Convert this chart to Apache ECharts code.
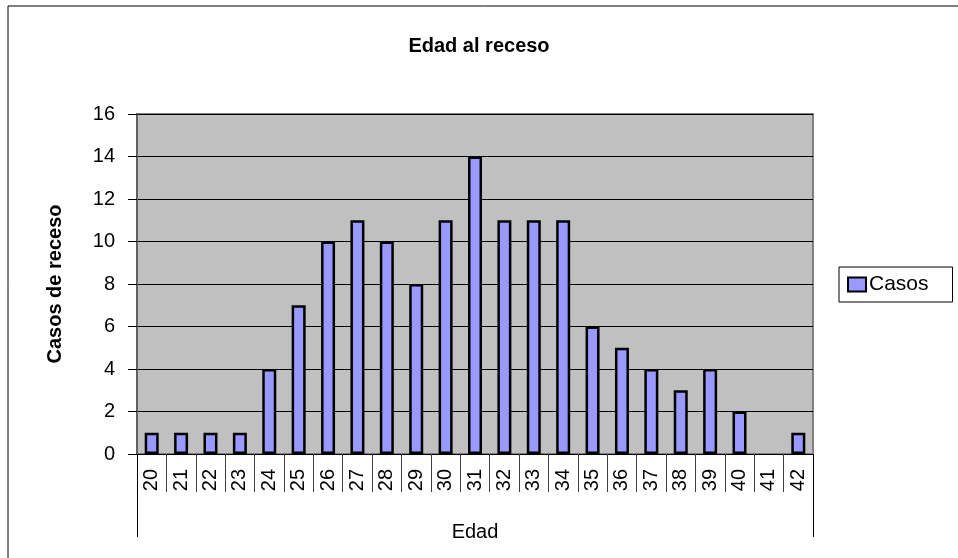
<!DOCTYPE html>
<html>
<head>
<meta charset="utf-8">
<script src="https://cdn.jsdelivr.net/npm/echarts@6/dist/echarts.min.js"></script>
<style>
  html, body { margin: 0; padding: 0; background: #fff; }
  #chart { width: 958px; height: 558px; }
</style>
</head>
<body>
<div id="chart"></div>
<script>
// datos
let edades = ['20','21','22','23','24','25','26','27','28','29','30','31','32','33','34','35','36','37','38','39','40','41','42']
let casos = [1, 1, 1, 1, 4, 7, 10, 11, 10, 8, 11, 14, 11, 11, 11, 6, 5, 4, 3, 4, 2, 0, 1]
let yTicks = [0, 2, 4, 6, 8, 10, 12, 14, 16]

let fuente = 'Liberation Sans, Arial, sans-serif'

// las barras en cero no se dibujan (sin borde)
let barras = casos.map(function (v) { return v === 0 ? '-' : v })

let option = {
  animation: false,
  backgroundColor: '#fff',
  title: {
    text: 'Edad al receso',
    left: 'center',
    top: 31,
    textStyle: { fontFamily: fuente, fontSize: 20, fontWeight: 'bold', color: '#000' }
  },
  legend: {
    data: ['Casos'],
    left: 839,
    top: 267,
    padding: [7, 24, 7, 8],
    itemWidth: 18,
    itemHeight: 14,
    itemGap: 4,
    borderColor: '#000',
    borderWidth: 1,
    icon: 'rect',
    textStyle: { fontFamily: fuente, fontSize: 21, color: '#000', padding: [0, 0, 0, -2] }
  },
  grid: {
    left: 137,
    right: 145,
    top: 114,
    bottom: 104,
    show: true,
    backgroundColor: '#C0C0C0',
    borderColor: '#808080',
    borderWidth: 2
  },
  xAxis: [
    {
      type: 'category',
      data: edades,
      position: 'bottom',
      axisLine: { show: true, lineStyle: { color: '#000', width: 1 } },
      axisTick: { show: true, interval: 0, length: 38, lineStyle: { color: '#404040' } },
      axisLabel: {
        interval: 0,
        rotate: 90,
        margin: 15,
        fontFamily: fuente,
        fontSize: 20,
        color: '#000'
      }
    },
    {
      type: 'category',
      data: [''],
      position: 'bottom',
      axisLine: { show: false },
      axisTick: { show: true, length: 83, lineStyle: { color: '#000' } },
      axisLabel: { show: false },
      name: 'Edad',
      nameLocation: 'middle',
      nameGap: 68,
      nameTextStyle: { fontFamily: fuente, fontSize: 20, color: '#000' }
    }
  ],
  yAxis: {
    type: 'value',
    min: yTicks[0],
    max: yTicks[yTicks.length - 1],
    interval: 2,
    name: 'Casos de receso',
    nameLocation: 'middle',
    nameGap: 72,
    nameTextStyle: { fontFamily: fuente, fontSize: 20, fontWeight: 'bold', color: '#000' },
    axisLine: { show: true, lineStyle: { color: '#606060', width: 2 } },
    axisTick: { show: true, inside: false, length: 9, lineStyle: { color: '#000' } },
    axisLabel: { margin: 22, fontFamily: fuente, fontSize: 20, color: '#000' },
    splitLine: { show: true, lineStyle: { color: '#000', width: 1 } }
  },
  graphic: [
    {
      type: 'rect',
      shape: { x: 8, y: 6, width: 960, height: 560 },
      style: { fill: 'none', stroke: '#000', lineWidth: 1 },
      silent: true
    }
  ],
  series: [
    {
      name: 'Casos',
      type: 'bar',
      xAxisIndex: 0,
      data: barras,
      barWidth: 14,
      itemStyle: { color: '#9999FF', borderColor: '#000', borderWidth: 2.5 }
    }
  ]
}

let myChart = echarts.init(document.getElementById('chart'))
myChart.setOption(option)
</script>
</body>
</html>
